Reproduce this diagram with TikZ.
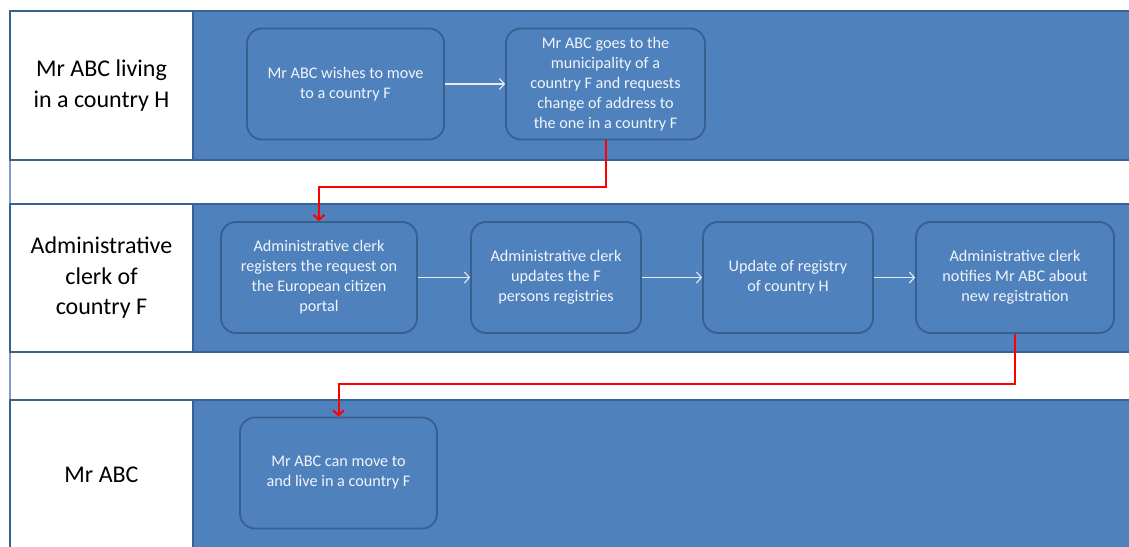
\documentclass[tikz,border=0pt]{standalone}
\usepackage{fontspec}
\setmainfont{Carlito}
\usepackage{tikz}
\usetikzlibrary{arrows.meta, positioning}

\definecolor{laneblue}{HTML}{4F81BD}
\definecolor{laneedge}{HTML}{3A6194}
\definecolor{boxedge}{HTML}{395F8F}
\definecolor{frameline}{HTML}{7F9CC4}

\begin{document}
\begin{tikzpicture}[x=1pt, y=-1pt,
    >={Straight Barb[length=5pt, width=11pt]},
    lane/.style={draw=laneedge, line width=1.6pt, fill=laneblue},
    head/.style={draw=laneedge, line width=1.6pt, fill=white, align=center,
        minimum width=183pt, font=\fontsize{24}{30.5}\selectfont},
    task/.style={draw=boxedge, line width=1.8pt, fill=laneblue, rounded corners=15pt,
        text=white!92!laneblue, align=center, minimum height=111pt,
        font=\fontsize{16.2}{20}\selectfont},
    flow/.style={->, white!85!laneblue, line width=1.1pt},
    handoff/.style={->, red, line width=2pt},
]
\useasboundingbox (0,0) rectangle (1129,546);
\clip (0,0) rectangle (1129,546);

% Frame line on the left
\draw[frameline, line width=1.2pt] (10,11) -- (10,560);

% --- Lanes
\path[lane] (10,11) rectangle (1140,160);
\path[lane] (10,204) rectangle (1140,352);
\path[lane] (10,400) rectangle (1140,560);

\node[head, minimum height=149pt] (citizenH) at (101.5,85.5) {Mr ABC living\\in a country  H};
\node[head, minimum height=148pt] (clerk) at (101.5,278) {Administrative\\clerk of\\country F};
\node[head, minimum height=160pt] (citizen) at (101.5,480) {};
\node[font=\fontsize{24}{30.5}\selectfont] (citizenlbl) at (101.5,475) {Mr ABC};

% --- Lane 1
\node[task, minimum width=197pt] (wish) at (345.5,84) {Mr ABC wishes to move\\to  a country  F};
\node[task, minimum width=199pt] (ask) at (605.5,84) {Mr ABC goes to the\\municipality of a\\country F and requests\\change of address to\\the one  in  a country F};

% --- Lane 2
\node[task, minimum width=196pt] (register) at (319,277.5) {Administrative clerk\\registers the request  on\\the European  citizen\\portal};
\node[task, minimum width=170pt] (updateF) at (556,277.5) {Administrative clerk\\updates the  F\\persons registries};
\node[task, minimum width=170pt] (updateH) at (788,277.5) {Update of registry\\of country H};
\node[task, minimum width=198pt] (notify) at (1015,277.5) {Administrative clerk\\notifies Mr ABC about\\new registration};

% --- Lane 3
\node[task, minimum width=197pt] (move) at (338.5,473) {Mr ABC can move to\\and live in a country  F};

% Flow inside lanes
\draw[flow] (wish) -- (ask);
\draw[flow] (register) -- (updateF);
\draw[flow] (updateF) -- (updateH);
\draw[flow] (updateH) -- (notify);

% Hand-offs between lanes
\draw[handoff] (ask.south) -- ++(0,47) -| (register.north);
\draw[handoff] (notify.south) -- ++(0,50) -| (move.north);

\end{tikzpicture}
\end{document}
